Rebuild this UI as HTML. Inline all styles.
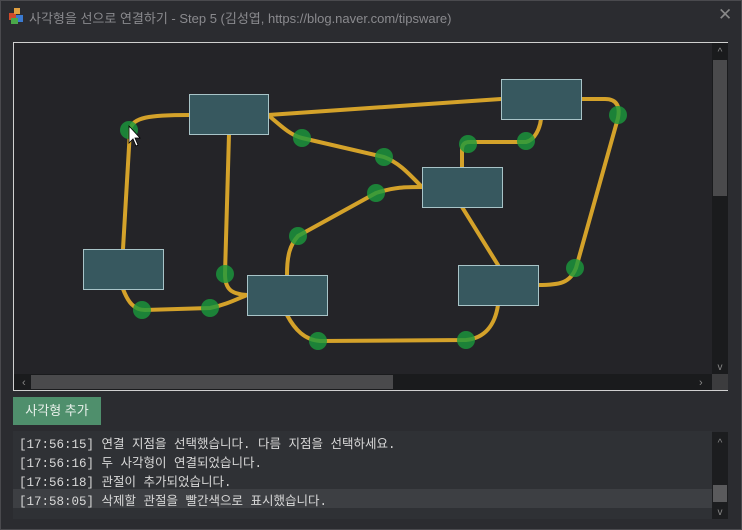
<!DOCTYPE html>
<html><head><meta charset="utf-8"><style>
body{margin:0;width:742px;height:530px;overflow:hidden;background:#2b2c30;font-family:"Liberation Sans","Noto Sans CJK KR",sans-serif;position:relative}
.t{position:absolute;left:29px;top:8px;color:#8a8a8e;font-size:13px}
.x{position:absolute;left:718px;top:5px;color:#888;font-size:17px}
.frame{position:absolute;left:0;top:0;width:740px;height:528px;border:1px solid #4a4a4e}
.btn{position:absolute;left:13px;top:397px;width:88px;height:28px;background:#4f8f6c;color:#e8f0ea;font-size:13px;line-height:28px;text-align:center}
.log{position:absolute;left:13px;top:431px;width:699px;height:88px;background:#2f3135}
.log div{position:absolute;left:6px;font-family:"Liberation Mono","Noto Sans CJK KR",monospace;font-size:12.5px;color:#d8d8d8;white-space:pre}
</style></head><body>
<div class="frame"></div>
<svg style="position:absolute;left:8px;top:7px" width="18" height="18"><rect x="1" y="6" width="7" height="7" fill="#d04a2a"/><rect x="8" y="8" width="7" height="7" fill="#3a7ad0"/><rect x="3" y="11" width="7" height="6" fill="#4aa84a"/><rect x="6" y="1" width="6" height="6" fill="#e0a040"/></svg>
<div class="t">사각형을 선으로 연결하기 - Step 5 (김성엽, https://blog.naver.com/tipsware)</div>
<div class="x">✕</div>
<svg style="position:absolute;left:0;top:0" width="742" height="530">
<rect x="13.5" y="42.5" width="714" height="348" fill="#242428" stroke="#d0d0d0" stroke-width="1"/>
<rect x="712" y="43" width="16" height="331" fill="#1a1b1d"/>
<rect x="713" y="60" width="14" height="136" fill="#4a4a4c"/>
<text x="720" y="55" fill="#888" font-size="10" text-anchor="middle">^</text>
<text x="720" y="370" fill="#888" font-size="10" text-anchor="middle">v</text>
<rect x="14" y="374" width="698" height="16" fill="#1a1b1d"/>
<rect x="31" y="375" width="362" height="14" fill="#4a4a4c"/>
<text x="22" y="386" fill="#888" font-size="11">‹</text>
<text x="699" y="386" fill="#888" font-size="11">›</text>
<rect x="712" y="374" width="16" height="16" fill="#3c3c3e"/>
<g fill="none" stroke="#d4a22a" stroke-width="4" stroke-linecap="round">
<path d="M189,115 C150,115 132,117 130,130 L123,249"/>
<path d="M268,115 L501,99"/>
<path d="M268,115 C280,125 290,135 302,138 L384,157 C400,163 410,175 422,187"/>
<path d="M229,134 L225,274 C225,290 232,294 247,295"/>
<path d="M123,289 C128,302 134,310 145,310 L210,308 C225,305 235,300 247,295"/>
<path d="M287,275 C287,255 290,245 298,236 L376,193 C395,187 405,187 422,187"/>
<path d="M462,167 L462,150 C462,144 465,142 470,142 L526,142 C535,140 540,128 541,119"/>
<path d="M462,207 L498,265"/>
<path d="M581,99 L605,99 C618,99 620,108 618,118 L576,268 C570,283 560,285 538,285"/>
<path d="M287,315 C295,330 305,340 320,341 L466,340 C485,338 495,325 498,305"/>
</g>
<g fill="#1a9a3c" fill-opacity="0.8">
<circle cx="129" cy="130" r="9"/><circle cx="302" cy="138" r="9"/><circle cx="384" cy="157" r="9"/>
<circle cx="618" cy="115" r="9"/><circle cx="526" cy="141" r="9"/><circle cx="468" cy="144" r="9"/>
<circle cx="376" cy="193" r="9"/><circle cx="298" cy="236" r="9"/><circle cx="225" cy="274" r="9"/>
<circle cx="142" cy="310" r="9"/><circle cx="210" cy="308" r="9"/><circle cx="575" cy="268" r="9"/>
<circle cx="318" cy="341" r="9"/><circle cx="466" cy="340" r="9"/>
</g>
<g fill="#37585f" stroke="#a8c4c8" stroke-width="1">
<rect x="189.5" y="94.5" width="79" height="40"/>
<rect x="501.5" y="79.5" width="80" height="40"/>
<rect x="422.5" y="167.5" width="80" height="40"/>
<rect x="83.5" y="249.5" width="80" height="40"/>
<rect x="247.5" y="275.5" width="80" height="40"/>
<rect x="458.5" y="265.5" width="80" height="40"/>
</g>
<path d="M129,126 L129,143 L133,139 L136,146 L138,145 L135,138 L140,138 Z" fill="#fff" stroke="#000" stroke-width="0.8"/>
</svg>
<div class="btn">사각형 추가</div>
<div class="log">
<div style="left:0;top:58px;width:699px;height:19px;background:#3d3f43"></div>
<div style="top:2px">[17:56:15] 연결 지점을 선택했습니다. 다름 지점을 선택하세요.</div>
<div style="top:21px">[17:56:16] 두 사각형이 연결되었습니다.</div>
<div style="top:40px">[17:56:18] 관절이 추가되었습니다.</div>
<div style="top:59px">[17:58:05] 삭제할 관절을 빨간색으로 표시했습니다.</div>
</div>
<svg style="position:absolute;left:712px;top:432px" width="16" height="87"><rect width="16" height="87" fill="#1c1d1f"/><rect x="1" y="53" width="14" height="17" fill="#5a5a5c"/><text x="8" y="14" fill="#888" font-size="10" text-anchor="middle">^</text><text x="8" y="83" fill="#888" font-size="10" text-anchor="middle">v</text></svg>
</body></html>
